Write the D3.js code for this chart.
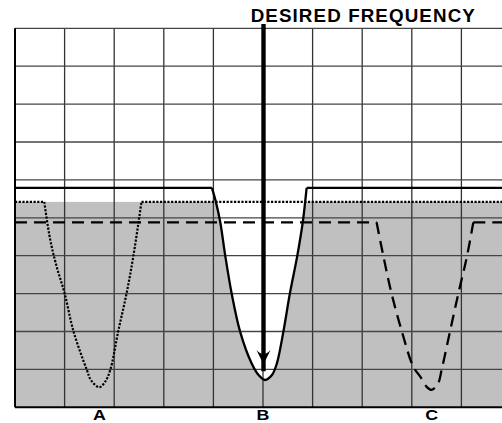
<!DOCTYPE html>
<html>
<head>
<meta charset="utf-8">
<script src="https://cdn.jsdelivr.net/npm/d3@7"></script>
<style>
  body { margin: 0; background: #fff; }
  text { font-family: "Liberation Sans", Arial, sans-serif; font-weight: bold; }
</style>
</head>
<body>
<div id="chart"></div>
<script>
// response levels, x = grid columns, y = grid rows from the bottom
const levelA = 5.42, levelB = 5.79, levelC = 4.88;
const cornersA = [0.59, 2.55];
const cornersB = [3.97, 5.88];
const cornersC = [7.29, 9.24];

// the dips (corner to corner)
const dipA = [[0.59,5.42],[0.71,4.42],[0.84,3.71],[1.0,3.01],[1.18,2.0],[1.45,0.98],[1.53,0.72],[1.70,0.53],
              [1.82,0.68],[1.92,0.98],[2.08,2.0],[2.25,3.01],[2.39,4.02],[2.55,5.42]];
const dipB = [[3.97,5.79],[4.05,5.42],[4.14,4.87],[4.24,3.99],[4.37,2.99],[4.54,1.99],[4.77,1.16],[4.91,0.85],
              [5.04,0.72],[5.18,0.85],[5.28,1.16],[5.41,1.99],[5.54,2.99],[5.69,3.99],[5.80,4.87],[5.85,5.42],[5.88,5.79]];
const dipC = [[7.29,4.88],[7.43,3.97],[7.59,3.01],[7.80,2.0],[8.03,1.07],[8.17,0.81],[8.30,0.54],[8.40,0.46],
              [8.53,0.63],[8.60,0.98],[8.77,2.0],[8.94,3.01],[9.11,3.97],[9.24,4.88]];

const labels = [{name:"A", x:1.70}, {name:"B", x:5.0}, {name:"C", x:8.40}];
const arrowX = 5.01;
const title = "DESIRED FREQUENCY";

const Width = 502, Height = 423;
const margin = {top: 28.3, left: 15, right: -9, bottom: 15.7};
const width = Width - margin.left - margin.right;
const height = Height - margin.top - margin.bottom;

let svg = d3.select("#chart").append("svg")
    .attr("width", Width)
    .attr("height", Height);

let plot = svg.append("g")
    .attr("transform", "translate(" + margin.left + "," + margin.top + ")");

let x = d3.scaleLinear().domain([0, 10]).range([0, width]);
let y = d3.scaleLinear().domain([0, 10]).range([height, 0]);

let curveLine = d3.line()
    .x(function(d) { return x(d[0]); })
    .y(function(d) { return y(d[1]); })
    .curve(d3.curveCatmullRom.alpha(0.5));

// grey band below the dotted level
plot.append("rect")
    .attr("x", 0).attr("y", y(levelA))
    .attr("width", width).attr("height", height - y(levelA))
    .attr("fill", "#c0c0c0");

// passband of B is left white
plot.append("path")
    .attr("d", curveLine(dipB) + "Z")
    .attr("fill", "#fff");

// grid
plot.append("g").selectAll("line")
    .data(d3.range(1, 10))
    .enter().append("line")
    .attr("x1", d => x(d)).attr("x2", d => x(d))
    .attr("y1", 0).attr("y2", height)
    .attr("stroke", "#333").attr("stroke-width", 1.3);

plot.append("g").selectAll("line")
    .data(d3.range(1, 11))
    .enter().append("line")
    .attr("x1", 0).attr("x2", width)
    .attr("y1", d => y(d)).attr("y2", d => y(d))
    .attr("stroke", "#444").attr("stroke-width", 1.3);

plot.append("line") // left border
    .attr("x1", 0).attr("x2", 0).attr("y1", 0).attr("y2", height)
    .attr("stroke", "#000").attr("stroke-width", 2);
plot.append("line") // bottom border
    .attr("x1", 0).attr("x2", width).attr("y1", height).attr("y2", height)
    .attr("stroke", "#000").attr("stroke-width", 2);

// one response curve = flat, dip, flat
function drawResponse(level, corners, dip, style) {
    let g = plot.append("g")
        .attr("fill", "none")
        .attr("stroke", "#000")
        .attr("stroke-width", style.w)
        .attr("stroke-dasharray", style.dash);
    g.append("line")
        .attr("x1", x(0)).attr("x2", x(corners[0]))
        .attr("y1", y(level)).attr("y2", y(level));
    g.append("path").attr("d", curveLine(dip));
    g.append("line")
        .attr("x1", x(corners[1])).attr("x2", x(10))
        .attr("y1", y(level)).attr("y2", y(level));
}

drawResponse(levelA, cornersA, dipA, {w: 2.2, dash: "2.2,1.5"});
drawResponse(levelC, cornersC, dipC, {w: 2.3, dash: "12,7"});
drawResponse(levelB, cornersB, dipB, {w: 2.3, dash: null});

// arrow
let ax = x(arrowX);
plot.append("line")
    .attr("x1", ax).attr("x2", ax)
    .attr("y1", -4.3).attr("y2", y(0.95))
    .attr("stroke", "#000").attr("stroke-width", 4.4);
plot.append("path")
    .attr("d", "M" + (ax - 7) + "," + y(1.51) + "Q" + ax + "," + y(1.3) + " " + (ax + 7) + "," + y(1.51)
         + "L" + ax + "," + y(1.13) + "Z")
    .attr("fill", "#000");

// labels
plot.append("g").selectAll("text")
    .data(labels)
    .enter().append("text")
    .attr("x", d => x(d.x))
    .attr("y", height + 13)
    .attr("text-anchor", "middle")
    .attr("font-size", "15.5px")
    .attr("transform", d => "translate(" + x(d.x) + ",0) scale(1.15,1) translate(" + (-x(d.x)) + ",0)")
    .text(d => d.name);

svg.append("text")
    .attr("x", 363.3)
    .attr("y", 21.8)
    .attr("text-anchor", "middle")
    .attr("font-size", "18.8px")
    .attr("letter-spacing", "1.1px")
    .text(title);
</script>
</body>
</html>
